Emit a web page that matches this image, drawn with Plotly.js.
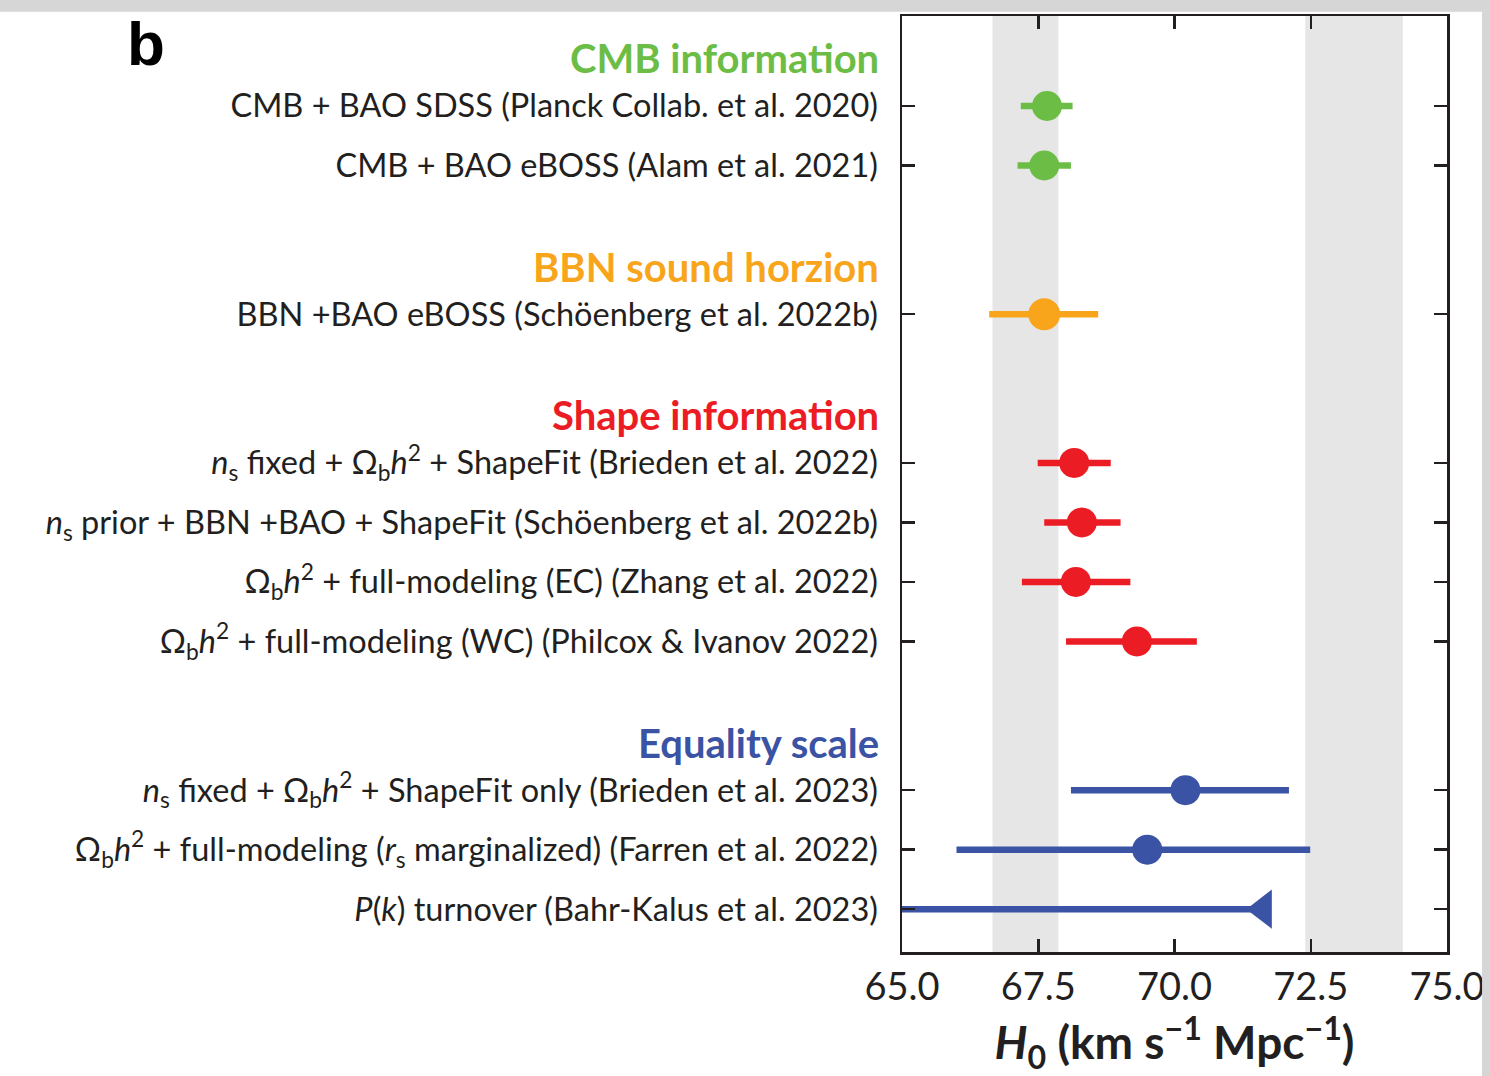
<!DOCTYPE html>
<html>
<head>
<meta charset="utf-8">
<script src="https://cdn.plot.ly/plotly-3.0.1.min.js"></script>
<style>
  html, body { margin: 0; padding: 0; background: #ffffff; }
  #chart { width: 1490px; height: 1076px; }
</style>
</head>
<body>
<div id="chart"></div>
<script>
// ---------------- data ----------------
const groupNames = ['CMB information', 'BBN sound horzion', 'Shape information', 'Equality scale'];
const groupColors = ['#6cbd45', '#f8a51b', '#ec1c24', '#3a53a4'];

const labels = [
  'CMB + BAO SDSS (Planck Collab. et al. 2020)',
  'CMB + BAO eBOSS (Alam et al. 2021)',
  'BBN +BAO eBOSS (Schöenberg et al. 2022b)',
  '<i>n</i><sub>s</sub> fixed + Ω<sub>b</sub><i>h</i><sup>2</sup> + ShapeFit (Brieden et al. 2022)',
  '<i>n</i><sub>s</sub> prior + BBN +BAO + ShapeFit (Schöenberg et al. 2022b)',
  'Ω<sub>b</sub><i>h</i><sup>2</sup> + full-modeling (EC) (Zhang et al. 2022)',
  'Ω<sub>b</sub><i>h</i><sup>2</sup> + full-modeling (WC) (Philcox &amp; Ivanov 2022)',
  '<i>n</i><sub>s</sub> fixed + Ω<sub>b</sub><i>h</i><sup>2</sup> + ShapeFit only (Brieden et al. 2023)',
  'Ω<sub>b</sub><i>h</i><sup>2</sup> + full-modeling (<i>r</i><sub>s</sub> marginalized) (Farren et al. 2022)',
  '<i>P</i>(<i>k</i>) turnover (Bahr-Kalus et al. 2023)'
];
const groupOf   = [0, 0, 1, 2, 2, 2, 2, 3, 3, 3];
const h0        = [67.66, 67.61, 67.61, 68.16, 68.30, 68.19, 69.31, 70.20, 69.50, 71.63];
const h0Low     = [67.18, 67.12, 66.60, 67.49, 67.61, 67.20, 68.01, 68.10, 66.00, 65.00];
const h0High    = [68.13, 68.10, 68.60, 68.83, 69.01, 69.19, 70.41, 72.10, 72.49, 71.63];
const upperLimit = [false, false, false, false, false, false, false, false, false, true];

// reference bands (Planck / SH0ES)
const bandLow  = [66.66, 72.40];
const bandHigh = [67.87, 74.19];

const xTicks = [65.0, 67.5, 70.0, 72.5, 75.0];

// ---------------- layout of rows ----------------
const ROW_STEP = 1, GROUP_GAP = 2.5;
const rowPos = [];
let cur = 0;
for (let i = 0; i < labels.length; i++) {
  if (i > 0) cur += (groupOf[i] !== groupOf[i - 1]) ? GROUP_GAP : ROW_STEP;
  rowPos.push(cur);
}

const INK = '#231f20';
const FONT = 'Lato, "Open Sans", sans-serif';

const traces = [];
groupNames.forEach((g, gi) => {
  const idx = [];
  for (let i = 0; i < labels.length; i++) if (groupOf[i] === gi) idx.push(i);
  const normal = idx.filter(i => !upperLimit[i]);
  const limits = idx.filter(i => upperLimit[i]);
  if (normal.length) {
    traces.push({
      type: 'scatter', mode: 'markers', name: g, showlegend: false,
      x: normal.map(i => h0[i]), y: normal.map(i => rowPos[i]),
      marker: { color: groupColors[gi], size: gi === 1 ? 32 : 30, line: { width: 0 } },
      error_x: {
        type: 'data', symmetric: false,
        array: normal.map(i => h0High[i] - h0[i]),
        arrayminus: normal.map(i => h0[i] - h0Low[i]),
        color: groupColors[gi], thickness: 6.5, width: 0
      },
      cliponaxis: false, hoverinfo: 'x+y'
    });
  }
  if (limits.length) {
    traces.push({
      type: 'scatter', mode: 'markers', name: g + ' (upper limit)', showlegend: false,
      x: limits.map(i => h0[i]), y: limits.map(i => rowPos[i]),
      marker: { color: groupColors[gi], size: 34, symbol: 'triangle-left', line: { width: 0 } },
      error_x: {
        type: 'data', symmetric: false,
        array: limits.map(i => 0),
        arrayminus: limits.map(i => h0[i] - h0Low[i]),
        color: groupColors[gi], thickness: 6.5, width: 0
      },
      hoverinfo: 'x+y'
    });
  }
});

// group headers
const annotations = [];
groupNames.forEach((g, gi) => {
  const first = groupOf.indexOf(gi);
  annotations.push({
    xref: 'paper', yref: 'y', x: -0.0385, y: rowPos[first] - 0.8,
    xanchor: 'right', yanchor: 'middle', showarrow: false,
    text: g,
    font: { family: FONT, size: 40, weight: 'bold', color: groupColors[gi] }
  });
});
// panel letter
annotations.push({
  xref: 'paper', yref: 'paper', x: -1.387, y: 0.971, xanchor: 'center', yanchor: 'middle',
  showarrow: false, text: 'b',
  font: { family: '"Liberation Sans", Arial, sans-serif', size: 62, weight: 'bold', color: '#000000' }
});

const shapes = [];
for (let k = 0; k < bandLow.length; k++) {
  shapes.push({
    type: 'rect', layer: 'below', xref: 'x', yref: 'paper',
    x0: bandLow[k], x1: bandHigh[k], y0: 0, y1: 1,
    fillcolor: '#e6e6e6', line: { width: 0 }
  });
}
// scanned page border (grey strips)
shapes.push({ type: 'rect', layer: 'above', xref: 'paper', yref: 'paper',
  x0: -1.7, x1: 1.1, y0: 1.0045, y1: 1.03, fillcolor: '#d6d6d6', line: { width: 0 } });
shapes.push({ type: 'rect', layer: 'above', xref: 'paper', yref: 'paper',
  x0: 1.0643, x1: 1.1, y0: -0.2, y1: 1.03, fillcolor: '#d6d6d6', line: { width: 0 } });

const layout = {
  width: 1490, height: 1076,
  margin: { l: 902, r: 43, t: 16, b: 124, pad: 0 },
  paper_bgcolor: '#ffffff', plot_bgcolor: '#ffffff',
  showlegend: false,
  font: { family: FONT, color: INK },
  xaxis: {
    range: [65, 75], tickvals: xTicks, ticktext: xTicks.map(v => v.toFixed(1)),
    ticks: 'inside', ticklen: 13, tickwidth: 2.5, tickcolor: INK,
    showline: true, linewidth: 2.5, linecolor: INK, mirror: 'ticks',
    showgrid: false, zeroline: false,
    tickfont: { family: FONT, size: 38, color: INK },
    ticklabelstandoff: 0,
    title: { text: '<i>H</i><sub>0</sub> (km s<sup>−1</sup> Mpc<sup>−1</sup>)',
             font: { family: FONT, size: 46, weight: 'bold', color: INK }, standoff: 29 }
  },
  yaxis: {
    range: [14.22, -1.513], tickvals: rowPos, ticktext: labels,
    ticks: 'inside', ticklen: 13, tickwidth: 2.5, tickcolor: INK,
    showline: true, linewidth: 2.5, linecolor: INK, mirror: 'ticks',
    showgrid: false, zeroline: false,
    tickfont: { family: FONT, size: 32.5, color: INK },
    ticklabelstandoff: 15
  },
  annotations: annotations,
  shapes: shapes
};

Plotly.newPlot('chart', traces, layout, { displayModeBar: false, staticPlot: true });
</script>
</body>
</html>
